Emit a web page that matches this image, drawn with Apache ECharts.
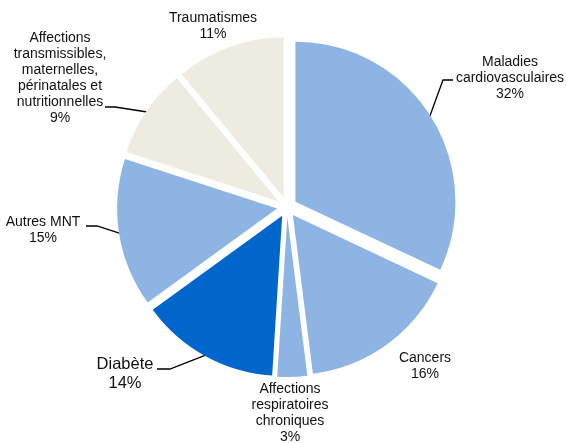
<!DOCTYPE html>
<html lang="fr">
<head>
    <meta charset="UTF-8">
    <title>Causes de décès</title>
    <script src="https://cdn.jsdelivr.net/npm/echarts@6/dist/echarts.min.js"></script>
    <style>
        html, body { margin: 0; padding: 0; background: #fff; }
    </style>
</head>
<body>
    <div id="main" style="width: 566px; height: 443px"></div>
    <script>
        // données
        var categories = ['Maladies cardiovasculaires', 'Cancers', 'Affections respiratoires chroniques',
            'Diabète', 'Autres MNT', 'Affections transmissibles, maternelles, périnatales et nutritionnelles', 'Traumatismes'];
        var labelNames = ['Maladies\ncardiovasculaires', 'Cancers', 'Affections\nrespiratoires\nchroniques',
            'Diabète', 'Autres MNT', 'Affections\ntransmissibles,\nmaternelles,\npérinatales et\nnutritionnelles', 'Traumatismes'];
        var values = [32, 16, 3, 14, 15, 9, 11];
        var colors = ['#8EB4E3', '#8EB4E3', '#8EB4E3', '#0066CC', '#8EB4E3', '#EEECE1', '#EEECE1'];

        // position des étiquettes (centre du bloc) et trait de rappel (coude, extrémité)
        var labelPos = [
            {x: 510, y: 78, mid: [443, 80], end: [453, 80]},
            {x: 425, y: 366},
            {x: 290, y: 413},
            {x: 125, y: 374, mid: [170, 369], end: [157, 369], big: true},
            {x: 43, y: 230, mid: [97, 226], end: [86, 226]},
            {x: 60, y: 78, mid: [115, 107], end: [105, 107]},
            {x: 213, y: 26}
        ];
        var explode = 10;

        var pieData = [];
        for (var i = 0; i < categories.length; i++) {
            pieData.push({
                name: categories[i],
                value: values[i],
                selected: true,
                itemStyle: {color: colors[i]}
            });
        }

        var chart = echarts.init(document.getElementById('main'));
        chart.setOption({
            animation: false,
            series: [{
                type: 'pie',
                center: [287, 207],
                radius: [0, 160],
                startAngle: 90,
                clockwise: true,
                selectedMode: 'multiple',
                selectedOffset: explode,
                emphasis: {disabled: true},
                itemStyle: {borderWidth: 0},
                label: {show: false},
                labelLine: {show: false},
                data: pieData
            }]
        });

        // étiquettes et traits de rappel, accrochés à la géométrie calculée par le pie
        var seriesData = chart.getModel().getSeriesByIndex(0).getData();
        var graphics = [];
        for (var j = 0; j < categories.length; j++) {
            var lay = seriesData.getItemLayout(j);
            var lp = labelPos[j];
            graphics.push({
                type: 'text',
                silent: true,
                style: {
                    text: labelNames[j] + '\n' + values[j] + '%',
                    x: lp.x,
                    y: lp.y,
                    align: 'center',
                    verticalAlign: 'middle',
                    fontFamily: 'Liberation Sans, Arial, sans-serif',
                    fontSize: lp.big ? 16.5 : 14,
                    lineHeight: lp.big ? 19 : 16,
                    fill: '#111'
                }
            });
            if (lp.end) {
                var mida = (lay.startAngle + lay.endAngle) / 2;
                var rr = lay.r + explode - 1;
                var start = [lay.cx + rr * Math.cos(mida), lay.cy + rr * Math.sin(mida)];
                graphics.push({
                    type: 'polyline',
                    silent: true,
                    shape: {points: [start, lp.mid, lp.end]},
                    style: {stroke: '#000', lineWidth: 1.3, fill: null}
                });
            }
        }
        chart.setOption({graphic: graphics});
    </script>
</body>
</html>
